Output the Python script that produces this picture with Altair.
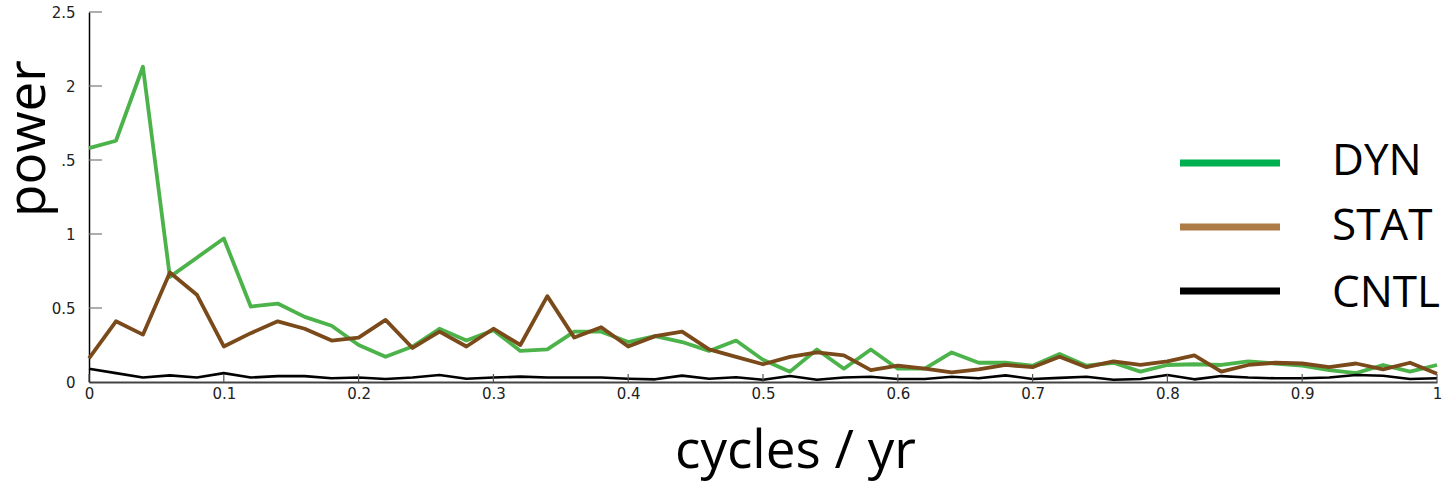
import altair as alt
import pandas as pd

freq = [0.00, 0.02, 0.04, 0.06, 0.08, 0.10, 0.12, 0.14, 0.16, 0.18,
        0.20, 0.22, 0.24, 0.26, 0.28, 0.30, 0.32, 0.34, 0.36, 0.38,
        0.40, 0.42, 0.44, 0.46, 0.48, 0.50, 0.52, 0.54, 0.56, 0.58,
        0.60, 0.62, 0.64, 0.66, 0.68, 0.70, 0.72, 0.74, 0.76, 0.78,
        0.80, 0.82, 0.84, 0.86, 0.88, 0.90, 0.92, 0.94, 0.96, 0.98, 1.00]

dyn = [1.58, 1.63, 2.13, 0.71, 0.84, 0.97, 0.51, 0.53, 0.44, 0.38,
       0.25, 0.17, 0.24, 0.36, 0.28, 0.35, 0.21, 0.22, 0.34, 0.34,
       0.27, 0.31, 0.27, 0.21, 0.28, 0.15, 0.07, 0.22, 0.09, 0.22,
       0.09, 0.09, 0.20, 0.13, 0.13, 0.11, 0.19, 0.11, 0.13, 0.07,
       0.115, 0.12, 0.115, 0.14, 0.125, 0.11, 0.08, 0.06, 0.115, 0.07, 0.115]

stat = [0.16, 0.41, 0.32, 0.74, 0.59, 0.24, 0.33, 0.41, 0.36, 0.28,
        0.30, 0.42, 0.23, 0.34, 0.24, 0.36, 0.25, 0.58, 0.30, 0.37,
        0.24, 0.31, 0.34, 0.22, 0.17, 0.12, 0.17, 0.20, 0.18, 0.08,
        0.11, 0.09, 0.065, 0.085, 0.115, 0.10, 0.17, 0.10, 0.14, 0.115,
        0.14, 0.18, 0.07, 0.115, 0.13, 0.125, 0.10, 0.125, 0.085, 0.13, 0.055]

cntl = [0.09, 0.06, 0.03, 0.045, 0.03, 0.06, 0.03, 0.04, 0.04, 0.025,
        0.03, 0.02, 0.03, 0.047, 0.022, 0.03, 0.036, 0.03, 0.03, 0.03,
        0.022, 0.018, 0.043, 0.022, 0.032, 0.015, 0.04, 0.015, 0.03, 0.035,
        0.02, 0.02, 0.035, 0.025, 0.045, 0.02, 0.028, 0.035, 0.015, 0.02,
        0.047, 0.018, 0.04, 0.03, 0.025, 0.025, 0.03, 0.047, 0.042, 0.02, 0.025]

x_ticks = [0, 0.1, 0.2, 0.3, 0.4, 0.5, 0.6, 0.7, 0.8, 0.9, 1.0]
y_ticks = [0, 0.5, 1.0, 1.5, 2.0, 2.5]

series_names = ["DYN", "STAT", "CNTL"]
line_colors = ["#4cb34a", "#7a4a1b", "#000000"]
line_widths = [3.8, 3.8, 2.6]
legend_colors = ["#00b050", "#ad7b45", "#000000"]

W, H = 1348, 370

xscale = alt.Scale(domain=[0, 1], nice=False, zero=False)
yscale = alt.Scale(domain=[0, 2.5], nice=False)

rows = []
for name, vals in zip(series_names, [dyn, stat, cntl]):
    for f, v in zip(freq, vals):
        rows.append({"f": f, "power": v, "series": name})
df = pd.DataFrame(rows)

tick_font = "DejaVu Sans"

x_axis = alt.Axis(values=x_ticks, format="~g", ticks=False, grid=False,
                  labelFont=tick_font, labelFontSize=15, labelColor="#222",
                  labelPadding=4, labelFlush=False,
                  domainColor="#444", domainWidth=2,
                  title="cycles / yr", titleFont="Open Sans", titleFontSize=53,
                  titleFontWeight="normal", titleColor="#000",
                  titleX=706, titleY=85, titleBaseline="alphabetic", titleAlign="center")
y_axis = alt.Axis(values=y_ticks, format="~g", ticks=False, grid=False,
                  labelExpr="datum.value == 1.5 ? '.5' : datum.label",
                  labelFont=tick_font, labelFontSize=15, labelColor="#222",
                  labelPadding=14, labelFlush=False,
                  domainColor="#000", domainWidth=1.5,
                  title="power", titleFont="Open Sans", titleFontSize=53,
                  titleFontWeight="normal", titleColor="#000", titleAngle=-90,
                  titleX=-45, titleY=126, titleBaseline="alphabetic", titleAlign="center")

X = alt.X("f:Q", scale=xscale, axis=x_axis)
Y = alt.Y("power:Q", scale=yscale, axis=y_axis)

layers = []
for i, name in enumerate(series_names):
    layers.append(alt.Chart(df).transform_filter(alt.datum.series == name)
                  .mark_line(color=line_colors[i], strokeWidth=line_widths[i],
                             strokeJoin="round")
                  .encode(x=X, y=Y))

# inside ticks
xt = pd.DataFrame({"f": x_ticks})
yt = pd.DataFrame({"power": y_ticks[1:]})
layers.append(alt.Chart(xt).mark_rule(color="#555", strokeWidth=1.2).encode(
    x=X, y=alt.value(H), y2=alt.value(H - 8)))
layers.append(alt.Chart(yt).mark_rule(color="#777", strokeWidth=1.2).encode(
    y=Y, x=alt.value(0), x2=alt.value(13)))

# legend
leg_line_y = [151, 215, 279]
leg_text_y = [163, 228, 295]
for i, name in enumerate(series_names):
    ld = pd.DataFrame({"name": [name]})
    layers.append(alt.Chart(ld).mark_rule(color=legend_colors[i], strokeWidth=7).encode(
        x=alt.value(1091), x2=alt.value(1191), y=alt.value(leg_line_y[i])))
    layers.append(alt.Chart(ld).mark_text(font="Open Sans", fontSize=44, align="left",
                                          baseline="alphabetic", color="#000").encode(
        x=alt.value(1243), y=alt.value(leg_text_y[i]), text="name:N"))

chart = alt.layer(*layers).properties(
    width=W, height=H,
    background="white",
    autosize=alt.AutoSizeParams(type="none"),
    padding={"left": 89, "top": 12, "right": 8, "bottom": 101},
).configure_view(stroke=None, strokeWidth=0)

chart.save("out.html", embed_options={"renderer": "svg", "actions": False})
